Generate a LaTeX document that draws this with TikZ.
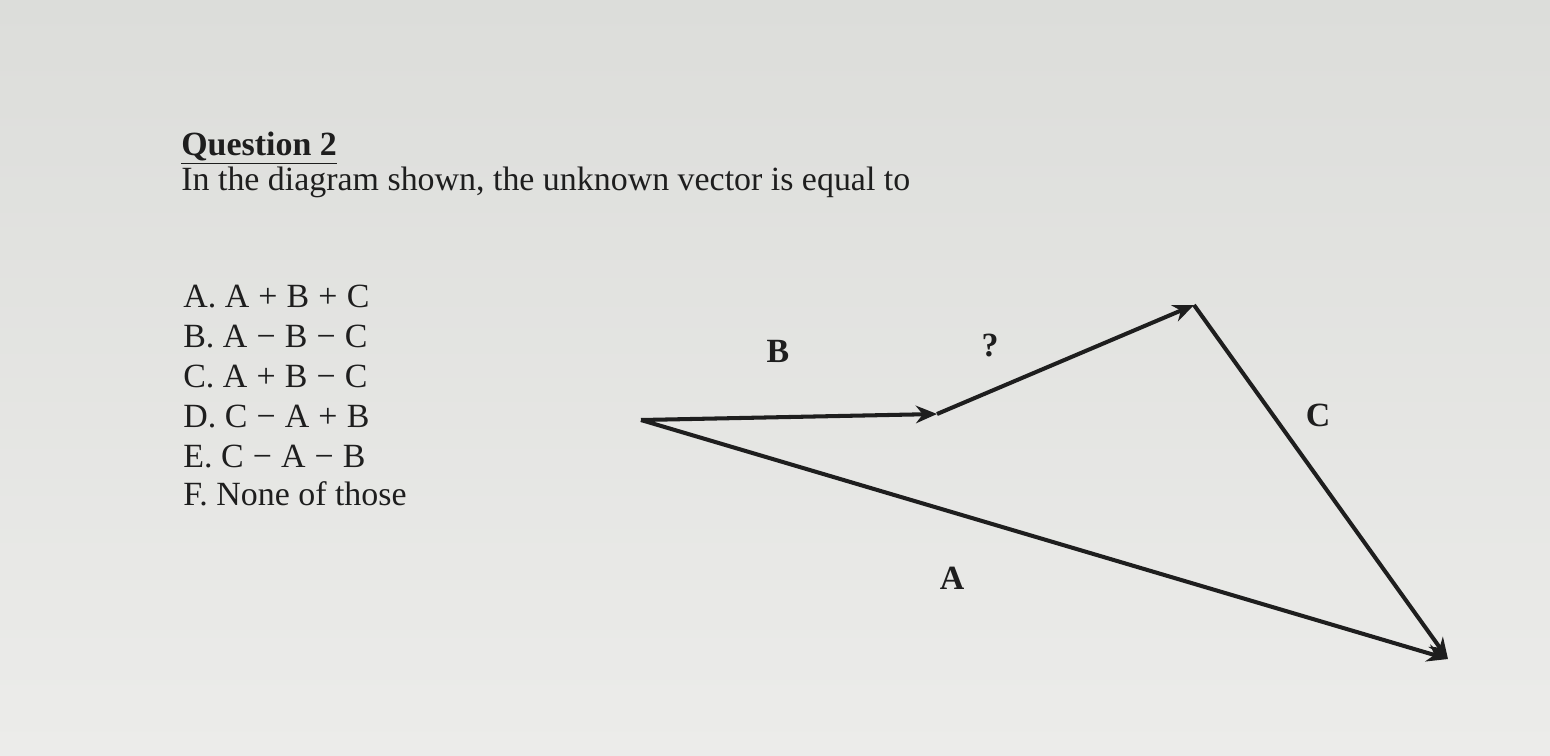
\documentclass[tikz,border=0pt]{standalone}
\usepackage{fontspec}
\setmainfont{Liberation Serif}
\usetikzlibrary{arrows.meta}
\definecolor{bgtop}{HTML}{DCDDDA}
\definecolor{bgbot}{HTML}{ECECEA}
\definecolor{ink}{HTML}{1E1E1E}
\newcommand\opp{\hspace{0.27em}+\hspace{0.27em}}
\newcommand\opm{\hspace{0.27em}−\hspace{0.27em}}
\begin{document}
\begin{tikzpicture}[x=0.02cm,y=-0.02cm,
  txt/.style={anchor=base west,inner sep=0pt,font=\fontsize{19.3}{23}\selectfont,text=ink},
  lbl/.style={inner sep=0pt,font=\fontsize{19.3}{23}\selectfont\bfseries,text=ink},
  vec/.style={line width=2.3pt,draw=ink,-{Stealth[length=12pt,width=10pt]}}]
\shade[top color=bgtop,bottom color=bgbot] (0,0) rectangle (1550,755);
\useasboundingbox (0,0) rectangle (1550,755);
\node[txt,font=\fontsize{19.3}{23}\selectfont\bfseries] (q) at (181,155) {\underline{Question 2}};
\node[txt] (intro) at (181,190) {In the diagram shown, the unknown vector is equal to};
\node[txt] (oa) at (183,307) {A. A\opp B\opp C};
\node[txt] (ob) at (183,347) {B. A\opm B\opm C};
\node[txt] (oc) at (183,387) {C. A\opp B\opm C};
\node[txt] (od) at (183,427) {D. C\opm A\opp B};
\node[txt] (oe) at (183,467) {E. C\opm A\opm B};
\node[txt] (of) at (183,505) {F. None of those};
\coordinate (O) at (641,420);
\coordinate (P) at (937,414);
\coordinate (Q) at (1194,305);
\coordinate (R) at (1448,659);
\draw[vec] (O) -- (P);
\draw[vec] (P) -- (Q);
\draw[vec] (Q) -- (R);
\draw[vec] (O) -- (R);
\node[lbl] (lb) at (778,351) {B};
\node[lbl] (lq) at (990,346) {?};
\node[lbl] (lc) at (1318,415) {C};
\node[lbl] (la) at (952,578) {A};
\end{tikzpicture}
\end{document}
